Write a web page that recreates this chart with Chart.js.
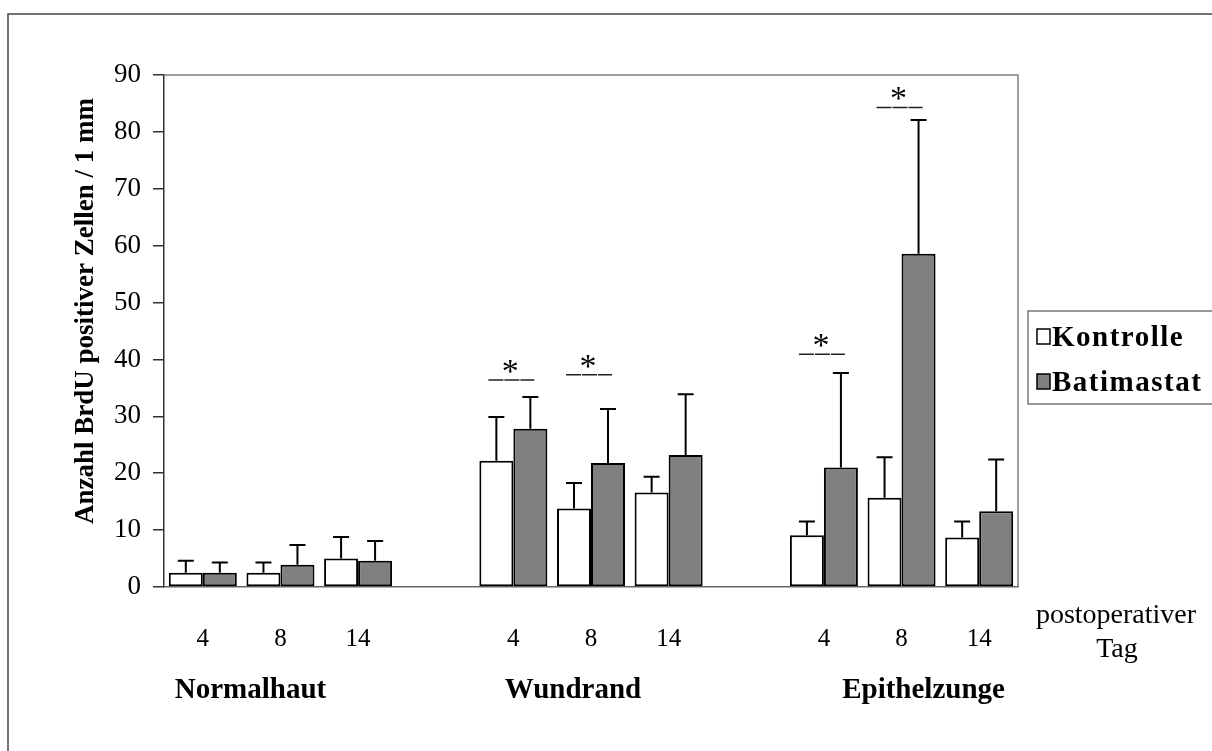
<!DOCTYPE html>
<html>
<head>
<meta charset="utf-8">
<script src="https://cdn.jsdelivr.net/npm/chart.js@4.4.0/dist/chart.umd.min.js"></script>
<style>
    body { margin: 0; background: #fff; }
    #wrap { position: relative; width: 1212px; height: 751px; }
</style>
</head>
<body>
<div id="wrap"><canvas id="chart"></canvas></div>
<script>
// data (empty slots separate the three regions)
const dayLabels = ['4', '8', '14', '', '4', '8', '14', '', '4', '8', '14'];
const groupNames = ['Normalhaut', 'Wundrand', 'Epithelzunge'];
const groupSlots = [1, 5, 9];
const kontrolle = [2.5, 2.5, 5.0, null, 22.2, 13.8, 16.6, null, 9.1, 15.7, 8.7];
const kontrolleSd = [2.1, 1.8, 3.8, null, 7.7, 4.5, 2.8, null, 2.4, 7.1, 2.8];
const batimastat = [2.5, 3.9, 4.6, null, 27.8, 21.8, 23.2, null, 21.0, 58.6, 13.3];
const batimastatSd = [1.8, 3.5, 3.5, null, 5.6, 9.5, 10.7, null, 16.6, 23.5, 9.1];
const sigSlots = [4, 5, 8, 9];
const sigLevels = [36.4, 37.3, 40.9, 84.3];
const yMin = 0, yMax = 90, yStep = 10;

const serif = '"Liberation Serif", "Times New Roman", serif';

const extras = {
    id: 'extras',
    beforeDraw(chart) {
        const ctx = chart.ctx;
        ctx.save();
        // outer frame (right/bottom edges lie outside the picture)
        ctx.strokeStyle = '#444';
        ctx.lineWidth = 1.5;
        ctx.strokeRect(8, 14, 1250, 800);
        ctx.restore();
    },
    afterDatasetsDraw(chart) {
        const ctx = chart.ctx;
        const xs = chart.scales.x, ys = chart.scales.y;
        const area = chart.chartArea;
        ctx.save();

        // plot border top/right
        ctx.strokeStyle = '#808080';
        ctx.lineWidth = 1.5;
        ctx.beginPath();
        ctx.moveTo(area.left, area.top);
        ctx.lineTo(area.right, area.top);
        ctx.lineTo(area.right, area.bottom);
        ctx.stroke();

        // error bars (upper only)
        const sds = [kontrolleSd, batimastatSd];
        ctx.strokeStyle = '#000';
        ctx.lineWidth = 2;
        chart.data.datasets.forEach((ds, i) => {
            const meta = chart.getDatasetMeta(i);
            meta.data.forEach((bar, j) => {
                const v = ds.data[j];
                if (v === null) return;
                const top = ys.getPixelForValue(v + sds[i][j]);
                ctx.beginPath();
                ctx.moveTo(bar.x, bar.y);
                ctx.lineTo(bar.x, top);
                ctx.moveTo(bar.x - 8, top);
                ctx.lineTo(bar.x + 8, top);
                ctx.stroke();
            });
        });

        // significance markers
        ctx.fillStyle = '#000';
        ctx.textAlign = 'center';
        ctx.textBaseline = 'alphabetic';
        sigSlots.forEach((slot, k) => {
            const cx = xs.getPixelForValue(slot) - 2;
            const ly = ys.getPixelForValue(sigLevels[k]);
            ctx.strokeStyle = '#222';
            ctx.lineWidth = 1.5;
            ctx.setLineDash([15, 1]);
            ctx.beginPath();
            ctx.moveTo(cx - 23, ly);
            ctx.lineTo(cx + 23, ly);
            ctx.stroke();
            ctx.setLineDash([]);
            ctx.font = '34px ' + serif;
            ctx.fillText('*', cx - 1, ly + 2);
        });

        // region names under the day ticks
        ctx.font = 'bold 29px ' + serif;
        const shifts = [-30, -18, 22];
        groupSlots.forEach((slot, k) => {
            ctx.fillText(groupNames[k], xs.getPixelForValue(slot) + shifts[k], 698);
        });

        // x axis caption
        ctx.font = '28px ' + serif;
        ctx.fillText('postoperativer', 1116, 623);
        ctx.fillText('Tag', 1117, 657);

        // y axis title
        ctx.save();
        ctx.translate(93, 311);
        ctx.rotate(-Math.PI / 2);
        ctx.font = 'bold 27px ' + serif;
        ctx.fillText('Anzahl BrdU positiver Zellen / 1 mm', 0, 0);
        ctx.restore();

        // legend
        ctx.strokeStyle = '#555';
        ctx.lineWidth = 1.2;
        ctx.strokeRect(1028, 311, 200, 93);
        const items = [['Kontrolle', '#fff', 346], ['Batimastat', '#808080', 391]];
        ctx.font = 'bold 29px ' + serif;
        ctx.letterSpacing = '1.5px';
        ctx.textAlign = 'left';
        items.forEach(([name, fill, base]) => {
            ctx.fillStyle = fill;
            ctx.fillRect(1037, base - 17, 13, 15);
            ctx.strokeStyle = '#000';
            ctx.lineWidth = 1.5;
            ctx.strokeRect(1037, base - 17, 13, 15);
            ctx.fillStyle = '#000';
            ctx.fillText(name, 1052, base);
        });

        ctx.restore();
    }
};

new Chart(document.getElementById('chart'), {
    type: 'bar',
    data: {
        labels: dayLabels,
        datasets: [{
            label: 'Kontrolle',
            data: kontrolle,
            backgroundColor: '#ffffff',
            borderColor: '#000',
            borderWidth: 2,
            borderSkipped: false
        }, {
            label: 'Batimastat',
            data: batimastat,
            backgroundColor: '#808080',
            borderColor: '#000',
            borderWidth: 2,
            borderSkipped: false
        }]
    },
    options: {
        responsive: true,
        maintainAspectRatio: false,
        animation: false,
        categoryPercentage: 0.876,
        barPercentage: 1.0,
        layout: { padding: { left: 0, right: 194, top: 75, bottom: 0 } },
        plugins: {
            legend: { display: false },
            tooltip: { enabled: false }
        },
        scales: {
            x: {
                grid: { display: false, drawTicks: false },
                border: { display: true, color: '#666', width: 1.5 },
                ticks: {
                    color: '#000',
                    font: { family: serif, size: 25 },
                    padding: 37,
                    autoSkip: false,
                    maxRotation: 0
                },
                afterFit(scale) { scale.height = 164; }
            },
            y: {
                min: yMin,
                max: yMax,
                grid: { drawOnChartArea: false, tickLength: 11, color: '#333', lineWidth: 1.5 },
                border: { display: true, color: '#333', width: 1.5 },
                ticks: {
                    stepSize: yStep,
                    color: '#000',
                    font: { family: serif, size: 27 },
                    padding: 12
                },
                afterFit(scale) { scale.width = 164; }
            }
        }
    },
    plugins: [extras]
});
</script>
</body>
</html>
